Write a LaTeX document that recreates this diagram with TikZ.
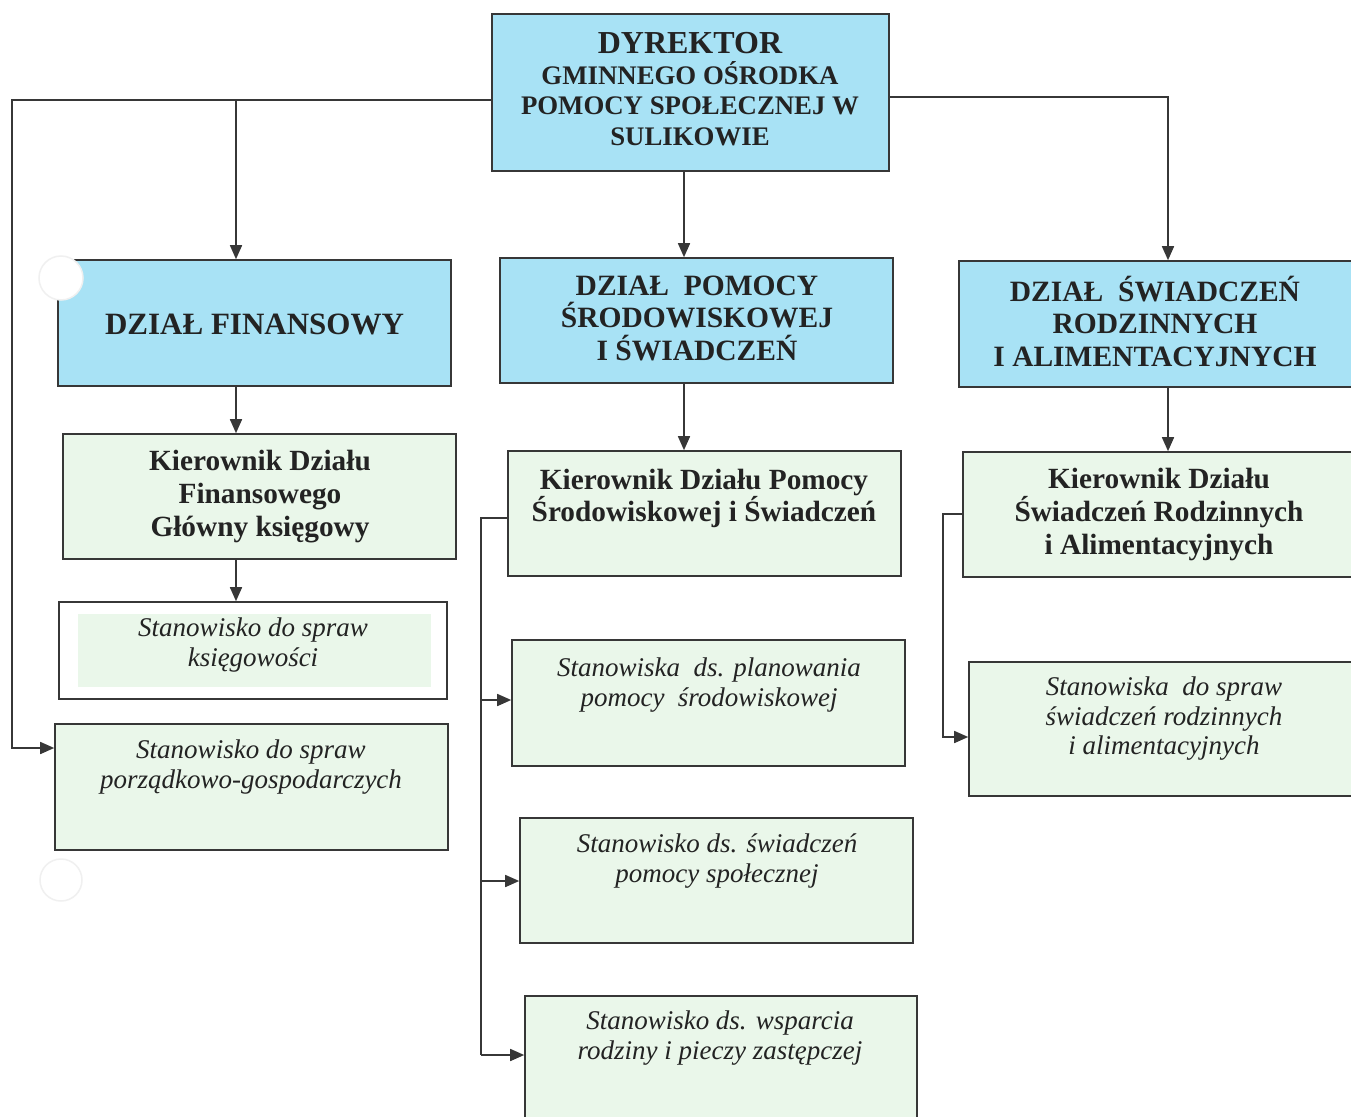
\documentclass[tikz,border=0pt]{standalone}
\usepackage{fontspec}
\setmainfont{Liberation Serif}
\usetikzlibrary{arrows.meta}
\definecolor{boxblue}{RGB}{168,226,245}
\definecolor{boxgreen}{RGB}{234,247,234}
\definecolor{linegray}{RGB}{55,55,55}
\definecolor{txt}{RGB}{35,35,35}
\tikzset{
  frame/.style={draw=linegray, line width=1.6pt, inner sep=0pt},
  bluebox/.style={frame, fill=boxblue},
  greenbox/.style={frame, fill=boxgreen},
  whitebox/.style={frame, fill=white},
  headtxt/.style={text=txt, align=center, font=\bfseries\fontsize{29.5}{32.5}\selectfont, inner sep=0pt},
  kiertxt/.style={text=txt, align=center, font=\bfseries\fontsize{29.3}{32.8}\selectfont, inner sep=0pt},
  stantxt/.style={text=txt, align=center, font=\itshape\fontsize{27}{29.5}\selectfont, inner sep=0pt},
  conn/.style={draw=linegray, line width=1.6pt},
  arr/.style={conn, -{Triangle[length=14pt,width=12pt]}},
  hole/.style={draw=black!6, line width=1.5pt, fill=white},
}
\begin{document}
\begin{tikzpicture}[x=1pt,y=-1pt]
\useasboundingbox (0,0) rectangle (1351,1116);
\fill[white] (0,0) rectangle (1351,1116);
\begin{scope}
\clip (0,0) rectangle (1351,1116);
% boxes
\node[bluebox, minimum width=397pt, minimum height=157pt] (dyr) at (690.5,92.5) {};
\node[bluebox, minimum width=393pt, minimum height=126pt] (fin) at (254.5,323) {};
\node[bluebox, minimum width=393pt, minimum height=125pt] (pom) at (696.5,320.5) {};
\node[bluebox, minimum width=395pt, minimum height=126pt] (swi) at (1156.5,324) {};
\node[greenbox, minimum width=393pt, minimum height=125pt] (kfin) at (259.5,496.5) {};
\node[greenbox, minimum width=393pt, minimum height=125pt] (kpom) at (704.5,513.5) {};
\node[greenbox, minimum width=392pt, minimum height=125pt] (kswi) at (1159,514.5) {};
\node[whitebox, minimum width=388pt, minimum height=97pt] (sks) at (253,650.5) {};
\fill[boxgreen] (78,614) rectangle (431,687);
\node[greenbox, minimum width=393pt, minimum height=126pt] (spor) at (251.5,787) {};
\node[greenbox, minimum width=393pt, minimum height=126pt] (splan) at (708.5,703) {};
\node[greenbox, minimum width=393pt, minimum height=125pt] (ssw) at (716.5,880.5) {};
\node[greenbox, minimum width=392pt, minimum height=126pt] (sws) at (721,1059) {};
\node[greenbox, minimum width=384pt, minimum height=134pt] (srodz) at (1161,729) {};

% punch holes
\node[hole, circle, minimum size=44pt] (h1) at (61,278) {};
\node[hole, circle, minimum size=42pt] (h2) at (61,880) {};

% texts
\node[headtxt, font=\bfseries\fontsize{26.8}{30.5}\selectfont] (tdyr) at (690,89) {{\fontsize{32}{30.5}\selectfont DYREKTOR}\\GMINNEGO OŚRODKA\\POMOCY SPOŁECZNEJ W\\SULIKOWIE};
\node[headtxt, font=\bfseries\fontsize{31}{32.5}\selectfont] (tfin) at (254.5,324) {DZIAŁ FINANSOWY};
\node[headtxt] (tpom) at (697,318) {DZIAŁ\ \ POMOCY\\ŚRODOWISKOWEJ\\I ŚWIADCZEŃ};
\node[headtxt] (tswi) at (1155,321) {DZIAŁ\ \ ŚWIADCZEŃ\\RODZINNYCH\\I ALIMENTACYJNYCH};
\node[kiertxt] (tkfin) at (260,496.5) {Kierownik Działu\\Finansowego\\Główny księgowy};
\node[kiertxt] (tkpom) at (704,498.5) {Kierownik Działu Pomocy\\Środowiskowej i Świadczeń};
\node[kiertxt] (tkswi) at (1159,514.5) {Kierownik Działu\\Świadczeń Rodzinnych\\i Alimentacyjnych};
\node[stantxt] (tsks) at (253,645) {Stanowisko do spraw\\księgowości};
\node[stantxt] (tspor) at (251,767) {Stanowisko do spraw\\porządkowo-gospodarczych};
\node[stantxt] (tsplan) at (709,685) {Stanowiska\ \ ds. planowania\\pomocy\ \ środowiskowej};
\node[stantxt] (tssw) at (717,861) {Stanowisko ds. świadczeń\\pomocy społecznej};
\node[stantxt] (tsws) at (720,1038) {Stanowisko ds. wsparcia\\rodziny i pieczy zastępczej};
\node[stantxt] (tsrodz) at (1164,719) {Stanowiska\ \ do spraw\\świadczeń rodzinnych\\i alimentacyjnych};

% connectors
\coordinate (jl) at (dyr.west |- 0,100);
\coordinate (jr) at (dyr.east |- 0,97);
\draw[arr] (jl) -- (12,100) |- (spor.west |- 0,748);
\draw[arr] (236,100) -- (236,0 |- fin.north);
\draw[arr] (jr) -| (1168,0 |- swi.north);
\draw[arr] (dyr.south -| 684,0) -- (684,0 |- pom.north);
\draw[arr] (fin.south -| 236,0) -- (236,0 |- kfin.north);
\draw[arr] (kfin.south -| 236,0) -- (236,0 |- sks.north);
\draw[arr] (pom.south -| 684,0) -- (684,0 |- kpom.north);
\draw[arr] (swi.south -| 1168,0) -- (1168,0 |- kswi.north);
% centre bracket
\draw[conn] (kpom.west |- 0,518) -- (481,518) -- (481,1055);
\draw[arr] (481,700) -- (splan.west |- 0,700);
\draw[arr] (481,881) -- (ssw.west |- 0,881);
\draw[arr] (481,1055) -- (sws.west |- 0,1055);
% right bracket
\draw[arr] (kswi.west |- 0,514) -- (943,514) |- (srodz.west |- 0,737);
\end{scope}
\end{tikzpicture}
\end{document}
